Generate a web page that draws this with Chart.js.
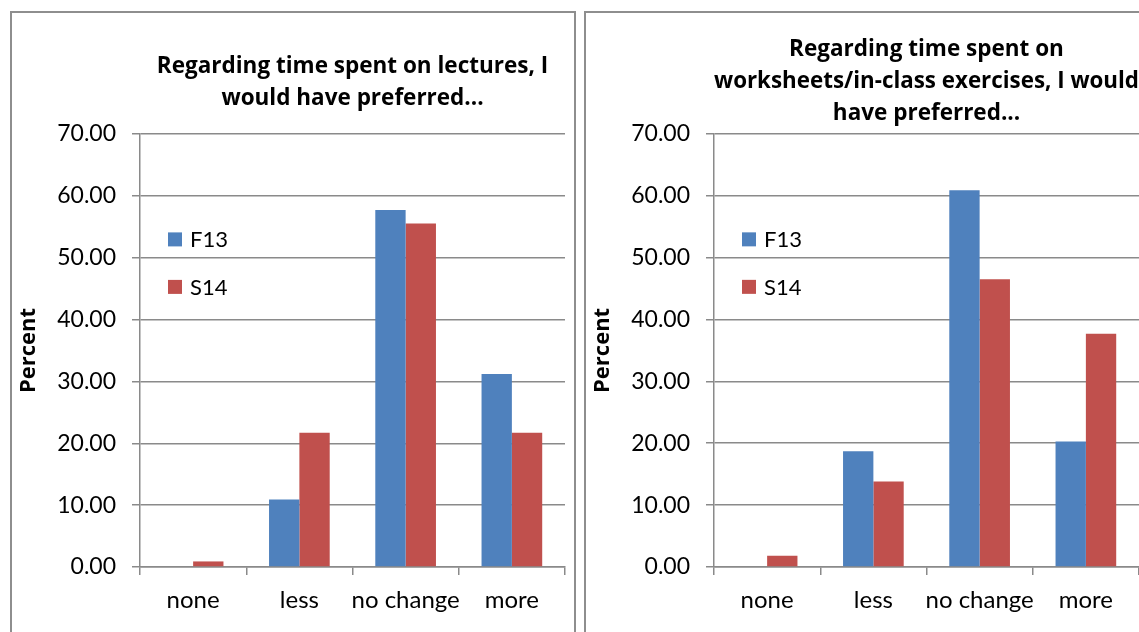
<!DOCTYPE html>
<html>
<head>
<meta charset="utf-8">
<script src="https://cdn.jsdelivr.net/npm/chart.js@4"></script>
<style>
  html, body { margin:0; padding:0; background:#fff; overflow:hidden; }
  body { width:1139px; height:632px; position:relative; }
  .box { position:absolute; border:2px solid #8e8e8e; box-sizing:border-box; }
  .wrap { position:absolute; }
</style>
</head>
<body>
<div class="box" style="left:10px;top:11px;width:566px;height:700px"></div>
<div class="box" style="left:584px;top:11px;width:600px;height:700px"></div>
<div class="wrap" style="left:12px;top:13px;width:562px;height:619px"><canvas id="lectures"></canvas></div>
<div class="wrap" style="left:586px;top:13px;width:560px;height:619px"><canvas id="worksheets"></canvas></div>
<script>
// data
const categories = ['none', 'less', 'no change', 'more']
const seriesNames = ['F13', 'S14']

const lecturesF13 = [0, 10.9, 57.7, 31.2]
const lecturesS14 = [0.9, 21.7, 55.5, 21.7]

const worksheetsF13 = [0, 18.7, 60.9, 20.3]
const worksheetsS14 = [1.8, 13.8, 46.5, 37.7]

const yMin = 0
const yMax = 70
const yStep = 10

const lecturesTitle = ['Regarding time spent on lectures, I', 'would have preferred...']
const worksheetsTitle = ['Regarding time spent on', 'worksheets/in-class exercises, I would', 'have preferred...']

const FONT = 'Lato, "Open Sans", sans-serif'
const BOLD_FONT = '"Open Sans", Lato, sans-serif'
const blue = '#4F81BD'
const red = '#C0504D'
const gridGray = '#8a8a8a'

// legend drawn inside the plot area
const insideLegend = {
  id: 'insideLegend',
  afterDraw(chart, args, opts) {
    const { ctx, chartArea } = chart
    ctx.save()
    ctx.font = '22px ' + FONT
    ctx.textBaseline = 'middle'
    chart.data.datasets.forEach((ds, i) => {
      const y = chartArea.top + opts.top + i * opts.gap
      const x = chartArea.left + opts.left
      ctx.fillStyle = ds.backgroundColor
      ctx.fillRect(x, y - 7, 14, 14)
      ctx.fillStyle = '#000'
      ctx.fillText(ds.label, x + 22, y + 1)
    })
    ctx.restore()
  }
}

function makeChart(id, titleLines, f13, s14, titlePad, padRight) {
  return new Chart(document.getElementById(id), {
    type: 'bar',
    data: {
      labels: categories,
      datasets: [
        { label: seriesNames[0], data: f13, backgroundColor: blue },
        { label: seriesNames[1], data: s14, backgroundColor: red }
      ]
    },
    options: {
      responsive: true,
      maintainAspectRatio: false,
      animation: false,
      layout: { padding: { left: 0, right: padRight, top: 0, bottom: 0 } },
      datasets: { bar: { categoryPercentage: 0.571, barPercentage: 1 } },
      plugins: {
        legend: { display: false },
        tooltip: { enabled: false },
        title: {
          display: true,
          text: titleLines,
          fullSize: false,
          color: '#000',
          font: { family: BOLD_FONT, size: 22.5, weight: 'bold', lineHeight: 1.42 },
          padding: titlePad
        },
        insideLegend: { left: 28, top: 105.5, gap: 47.5 }
      },
      scales: {
        x: {
          afterFit(scale) { scale.height = 65 },
          grid: {
            display: true, drawOnChartArea: false, drawTicks: true,
            tickLength: 8, color: gridGray, lineWidth: 1.5, offset: true
          },
          border: { display: true, color: gridGray, width: 1.5 },
          ticks: {
            color: '#000', font: { family: FONT, size: 24 },
            padding: 11, maxRotation: 0, autoSkip: false
          }
        },
        y: {
          min: yMin,
          max: yMax,
          afterFit(scale) { scale.width = 128 },
          grid: { color: gridGray, lineWidth: 1.5, tickLength: 8, drawTicks: true },
          border: { display: true, color: gridGray, width: 1.5 },
          ticks: {
            stepSize: yStep,
            color: '#000', font: { family: FONT, size: 23 },
            padding: 16,
            callback: v => v.toFixed(2)
          },
          title: {
            display: true, text: 'Percent', color: '#000',
            font: { family: BOLD_FONT, size: 22, weight: 'bold' },
            padding: { top: 4, bottom: 0 }
          }
        }
      }
    },
    plugins: [insideLegend]
  })
}

makeChart('lectures', lecturesTitle, lecturesF13, lecturesS14, { top: 38, bottom: 19 }, 9)
makeChart('worksheets', worksheetsTitle, worksheetsF13, worksheetsS14, { top: 21, bottom: 4 }, 7)
</script>
</body>
</html>
